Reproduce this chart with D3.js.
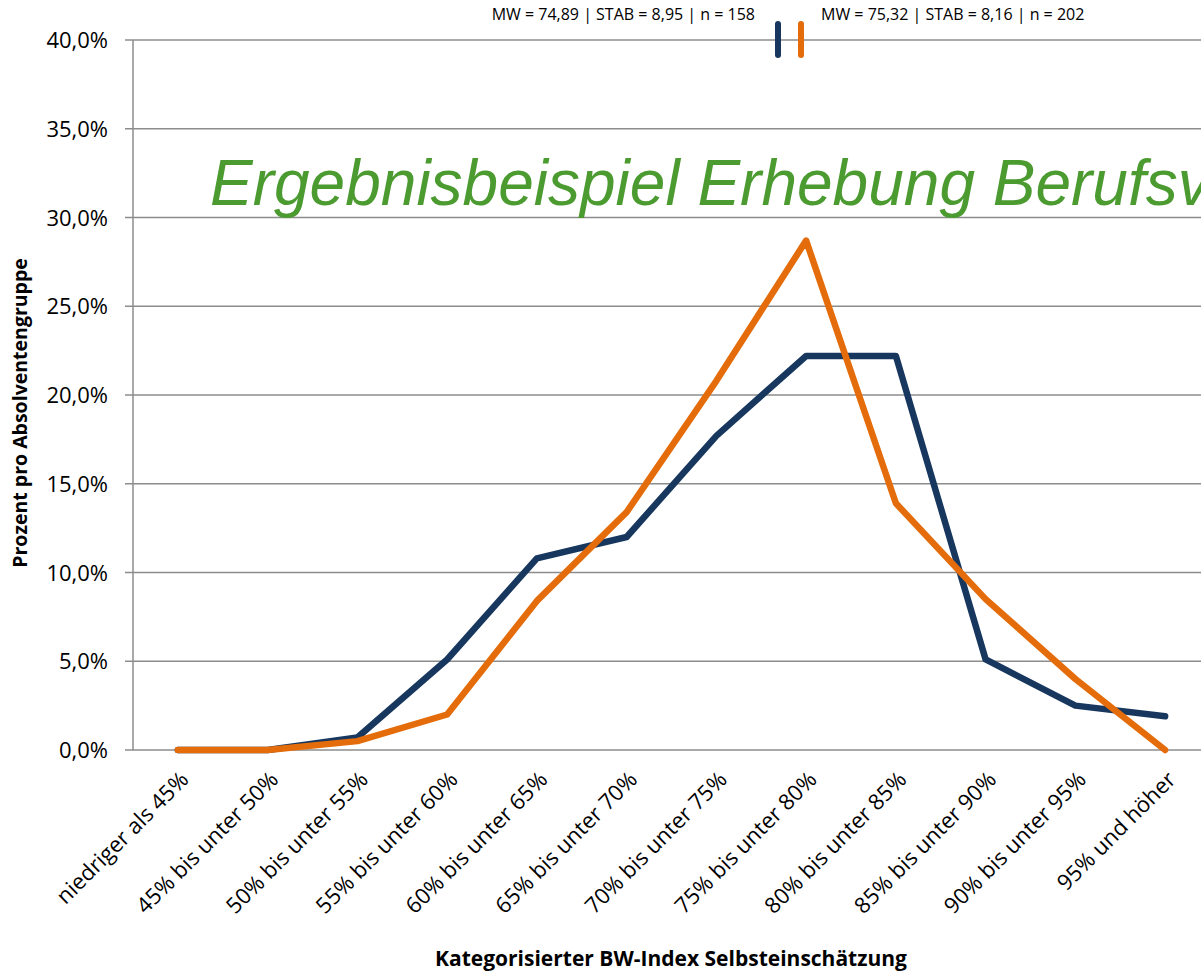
<!DOCTYPE html>
<html>
<head>
<meta charset="utf-8">
<script src="https://cdn.jsdelivr.net/npm/d3@7"></script>
<style>
    body { margin: 0; background: #fff; overflow: hidden; }
</style>
</head>
<body>
<div id="main"></div>
<script>
var ctx = {
    w: 1201,
    h: 973,
};

var categories = [
    "niedriger als 45%",
    "45% bis unter 50%",
    "50% bis unter 55%",
    "55% bis unter 60%",
    "60% bis unter 65%",
    "65% bis unter 70%",
    "70% bis unter 75%",
    "75% bis unter 80%",
    "80% bis unter 85%",
    "85% bis unter 90%",
    "90% bis unter 95%",
    "95% und höher",
];

// percentages per graduate group
var groupA = [0.0, 0.0, 0.7, 5.1, 10.8, 12.0, 17.7, 22.2, 22.2, 5.1, 2.5, 1.9];
var groupB = [0.0, 0.0, 0.5, 2.0, 8.4, 13.4, 20.8, 28.7, 13.9, 8.5, 4.0, 0.0];

var yTicks = [0, 5, 10, 15, 20, 25, 30, 35, 40];

var statsA = "MW = 74,89 | STAB = 8,95 | n = 158";
var statsB = "MW = 75,32 | STAB = 8,16 | n = 202";

var font = "'Open Sans', 'Noto Sans', sans-serif";

var createViz = function () {
    var svg = d3.select("#main").append("svg")
        .attr("width", ctx.w)
        .attr("height", ctx.h)
        .style("font-family", font);

    var left = 133, right = 1210, top = 40, bottom = 750;

    var x = d3.scalePoint().domain(categories).range([left, right]).padding(0.5);
    var y = d3.scaleLinear().domain([0, 40]).range([bottom, top]);

    // gridlines
    svg.append("g")
        .selectAll("line")
        .data(yTicks)
        .enter()
        .append("line")
        .attr("x1", left - 8)
        .attr("x2", ctx.w)
        .attr("y1", function (d) { return y(d); })
        .attr("y2", function (d) { return y(d); })
        .attr("stroke", "#8c8c8c")
        .attr("stroke-width", 1.5);

    // y axis
    var yAxis = d3.axisLeft(y)
        .tickValues(yTicks)
        .tickSize(0)
        .tickPadding(25)
        .tickFormat(function (d) { return d.toFixed(1).replace(".", ",") + "%"; });
    var ya = svg.append("g").attr("transform", "translate(" + left + ",0)").call(yAxis);
    ya.select(".domain").remove();
    ya.selectAll("text")
        .style("font-family", font)
        .style("font-size", "22px")
        .attr("fill", "#000")
        .attr("dy", "0.35em");

    svg.append("line")
        .attr("x1", left).attr("x2", left)
        .attr("y1", top).attr("y2", bottom)
        .attr("stroke", "#8c8c8c")
        .attr("stroke-width", 1.5);

    // title watermark
    svg.append("text")
        .attr("x", 210)
        .attr("y", 205)
        .style("font-family", "'Liberation Sans', Arial, sans-serif")
        .style("font-style", "italic")
        .style("font-size", "64px")
        .attr("fill", "#4b9b30")
        .text("Ergebnisbeispiel Erhebung Berufsverbleib");

    // lines
    var line = d3.line()
        .x(function (d, i) { return x(categories[i]); })
        .y(function (d) { return y(d); });

    var series = [
        { values: groupA, color: "#17375e" },
        { values: groupB, color: "#e46c0a" },
    ];

    svg.append("g")
        .selectAll("path")
        .data(series)
        .enter()
        .append("path")
        .attr("d", function (d) { return line(d.values); })
        .attr("fill", "none")
        .attr("stroke", function (d) { return d.color; })
        .attr("stroke-width", 6.5)
        .attr("stroke-linejoin", "round")
        .attr("stroke-linecap", "round");

    // x labels
    svg.append("g")
        .selectAll("text")
        .data(categories)
        .enter()
        .append("text")
        .attr("transform", function (d) {
            return "translate(" + (x(d) + 12) + "," + 781 + ") rotate(-45)";
        })
        .attr("text-anchor", "end")
        .style("font-size", "22px")
        .attr("fill", "#000")
        .text(function (d) { return d; });

    // axis titles
    svg.append("text")
        .attr("transform", "translate(27,413) rotate(-90)")
        .attr("text-anchor", "middle")
        .style("font-weight", "bold")
        .style("font-size", "19.5px")
        .text("Prozent pro Absolventengruppe");

    svg.append("text")
        .attr("x", 671)
        .attr("y", 966)
        .attr("text-anchor", "middle")
        .style("font-weight", "bold")
        .style("font-size", "21px")
        .text("Kategorisierter BW-Index Selbsteinschätzung");

    // legend with stats
    svg.append("text")
        .attr("x", 755).attr("y", 20)
        .attr("text-anchor", "end")
        .style("font-size", "16px")
        .text(statsA);
    svg.append("text")
        .attr("x", 821).attr("y", 20)
        .style("font-size", "16px")
        .text(statsB);

    svg.append("g")
        .selectAll("line")
        .data(series)
        .enter()
        .append("line")
        .attr("x1", function (d, i) { return 778 + i * 23; })
        .attr("x2", function (d, i) { return 778 + i * 23; })
        .attr("y1", 24)
        .attr("y2", 55)
        .attr("stroke", function (d) { return d.color; })
        .attr("stroke-width", 6)
        .attr("stroke-linecap", "round");
};

createViz();
</script>
</body>
</html>
